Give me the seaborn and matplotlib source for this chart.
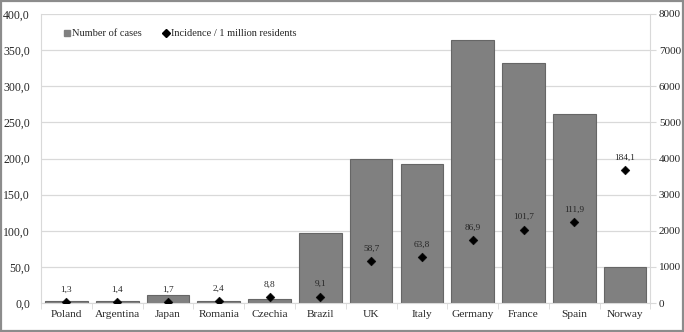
import seaborn as sns
import matplotlib.pyplot as plt
import pandas as pd
from matplotlib.patches import Rectangle
from matplotlib.lines import Line2D
from matplotlib.ticker import FuncFormatter

countries = ["Poland", "Argentina", "Japan", "Romania", "Czechia", "Brazil",
             "UK", "Italy", "Germany", "France", "Spain", "Norway"]
cases = [60, 65, 220, 50, 120, 1940, 3990, 3860, 7270, 6640, 5230, 1000]
incidence = [1.3, 1.4, 1.7, 2.4, 8.8, 9.1, 58.7, 63.8, 86.9, 101.7, 111.9, 184.1]

df = pd.DataFrame({"country": countries, "cases": cases, "incidence": incidence})

sns.set_style("white")
plt.rcParams["font.family"] = ["Liberation Serif", "DejaVu Serif"]

fig, ax = plt.subplots(figsize=(6.84, 3.32), dpi=100)
fig.subplots_adjust(left=0.06, right=0.951, top=0.958, bottom=0.087)

# bars on the main axes, scale shown on the right
sns.barplot(data=df, x="country", y="cases", color="#808080", width=0.84,
            edgecolor="#666666", linewidth=0.8, saturation=1, ax=ax, zorder=2)
ax.set_ylim(0, 8000)
ax.set_yticks(range(0, 8001, 1000))
ax.grid(axis="y", color="#d9d9d9", linewidth=0.9, zorder=0)
ax.set_axisbelow(True)
ax.set_xlabel("")
ax.set_ylabel("")
ax.set_xlim(-0.5, len(countries) - 0.5)

# diamonds on the twin axes, scale shown on the left
ax2 = ax.twinx()
sns.scatterplot(data=df, x="country", y="incidence", marker="D", color="black",
                s=20, edgecolor="black", ax=ax2, zorder=3, legend=False)
ax2.set_ylim(0, 400)
ax2.set_yticks(range(0, 401, 50))
ax2.yaxis.set_major_formatter(FuncFormatter(lambda v, p: f"{v:.1f}".replace(".", ",")))
ax2.set_ylabel("")
ax2.set_xlabel("")

# swap sides: cases on the right, incidence on the left
ax.yaxis.tick_right()
ax2.yaxis.tick_left()

for i, v in enumerate(incidence):
    ax2.annotate(f"{v:.1f}".replace(".", ","), (i, v), xytext=(0, 6),
                 textcoords="offset points", ha="center", va="bottom",
                 fontsize=6.7)

for a in (ax, ax2):
    for s in a.spines.values():
        s.set_visible(False)
ax.spines["bottom"].set_visible(True)
ax.spines["bottom"].set_color("#d9d9d9")
ax.spines["right"].set_visible(True)
ax.spines["right"].set_color("#d9d9d9")
ax2.spines["left"].set_visible(True)
ax2.spines["left"].set_color("#d9d9d9")

# tick marks between categories on the bottom
ax.set_xticks([i + 0.5 for i in range(-1, len(countries))], minor=True)
ax.tick_params(axis="x", which="minor", length=4, color="#d9d9d9", bottom=True)
ax.tick_params(axis="x", which="major", length=0, labelsize=8.2, pad=5)
ax.tick_params(axis="y", length=4, color="#d9d9d9", labelsize=8, pad=2)
ax2.tick_params(axis="y", length=0, labelsize=8.5, pad=8)

handles = [Line2D([], [], marker="s", linestyle="", color="#808080", markersize=5),
           Line2D([], [], marker="D", linestyle="", color="black", markersize=4)]
ax2.legend(handles, ["Number of cases", "Incidence / 1 million residents"],
           loc="upper left", bbox_to_anchor=(0.02, 0.98), ncol=2, frameon=False,
           fontsize=7.5, handletextpad=0.1, columnspacing=1.9, handlelength=0.8)

fig.patches.append(Rectangle((0.002, 0.003), 0.996, 0.994, transform=fig.transFigure,
                             fill=False, edgecolor="#8c8c8c", linewidth=1.6))

fig.savefig("out.png", dpi=100)
